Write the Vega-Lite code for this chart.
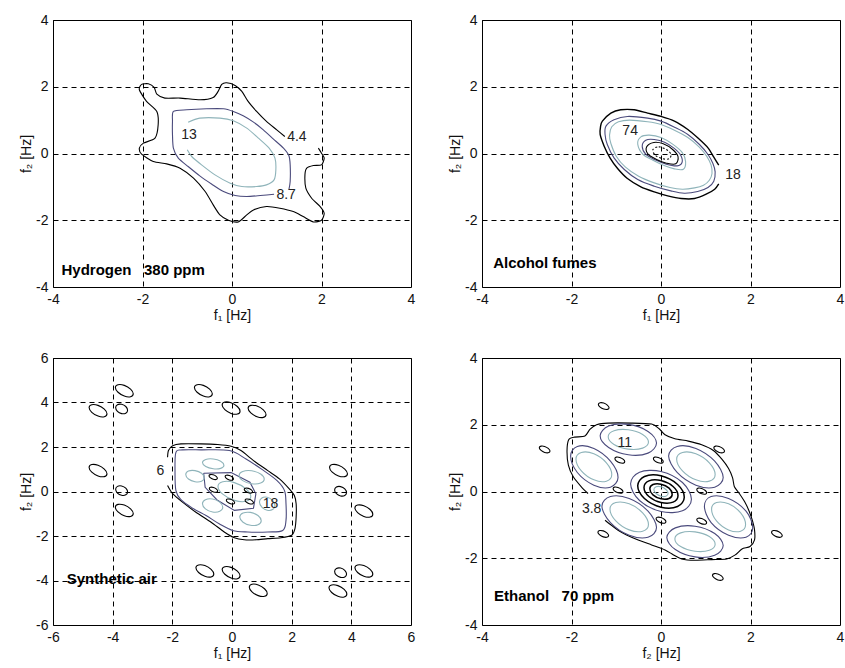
{
"$schema":"https://vega.github.io/schema/vega-lite/v6.json",
"background":"white",
"padding":{"left":19,"top":12,"right":5,"bottom":5},
"bounds":"flush",
"columns":2,
"spacing":{"row":71,"column":71},
"config":{
 "view":{"stroke":"#000","strokeWidth":1},
 "axis":{"labelFont":"Liberation Sans","labelFontSize":14,"labelColor":"#111","titleFont":"Liberation Sans","titleFontSize":14,"titleFontWeight":"normal","titleColor":"#111","ticks":false,"domain":false,"grid":true,"gridColor":"#000","gridDash":[5,4],"gridOpacity":1,"gridWidth":1,"labelPadding":5,"titlePadding":2,"labelFlush":false,"labelOverlap":false},
 "text":{"font":"Liberation Sans","fontSize":14,"color":"#222"}
},
"concat":[
{
 "width":358,"height":267,
 "encoding":{
  "x":{"field":"x","type":"quantitative","scale":{"domain":[-4,4],"nice":false,"zero":false},"axis":{"values":[-4,-2,0,2,4],"labelExpr":"'' + datum.value"},"title":"f₁ [Hz]"},
  "y":{"field":"y","type":"quantitative","scale":{"domain":[-4,4],"nice":false,"zero":false},"axis":{"values":[-4,-2,0,2,4],"labelExpr":"'' + datum.value"},"title":"f₂ [Hz]"}
 },
 "layer":[
  {"mark":{"type":"line","interpolate":"cardinal","tension":0.3,"strokeWidth":1.1},
   "data":{"values":[
{"g":"h1","k":"b","x":1.18,"y":0.51},{"g":"h1","k":"b","x":1.00,"y":0.71},{"g":"h1","k":"b","x":0.77,"y":0.96},{"g":"h1","k":"b","x":0.55,"y":1.26},{"g":"h1","k":"b","x":0.36,"y":1.56},{"g":"h1","k":"b","x":0.22,"y":1.86},{"g":"h1","k":"b","x":0.07,"y":2.04},{"g":"h1","k":"b","x":-0.12,"y":2.12},{"g":"h1","k":"b","x":-0.23,"y":2.07},{"g":"h1","k":"b","x":-0.31,"y":1.86},{"g":"h1","k":"b","x":-0.42,"y":1.68},{"g":"h1","k":"b","x":-0.71,"y":1.61},{"g":"h1","k":"b","x":-1.16,"y":1.66},{"g":"h1","k":"b","x":-1.50,"y":1.66},{"g":"h1","k":"b","x":-1.68,"y":1.78},{"g":"h1","k":"b","x":-1.74,"y":1.98},{"g":"h1","k":"b","x":-1.87,"y":2.09},{"g":"h1","k":"b","x":-2.02,"y":2.07},{"g":"h1","k":"b","x":-2.07,"y":1.91},{"g":"h1","k":"b","x":-1.91,"y":1.56},{"g":"h1","k":"b","x":-1.68,"y":1.26},{"g":"h1","k":"b","x":-1.65,"y":0.86},{"g":"h1","k":"b","x":-1.72,"y":0.46},{"g":"h1","k":"b","x":-1.98,"y":0.31},{"g":"h1","k":"b","x":-2.07,"y":0.16},{"g":"h1","k":"b","x":-2.02,"y":-0.02},{"g":"h1","k":"b","x":-1.76,"y":-0.24},{"g":"h1","k":"b","x":-1.46,"y":-0.31},{"g":"h1","k":"b","x":-1.16,"y":-0.44},{"g":"h1","k":"b","x":-0.86,"y":-0.74},{"g":"h1","k":"b","x":-0.60,"y":-1.14},{"g":"h1","k":"b","x":-0.42,"y":-1.54},{"g":"h1","k":"b","x":-0.27,"y":-1.84},{"g":"h1","k":"b","x":-0.08,"y":-2.00},{"g":"h1","k":"b","x":0.14,"y":-2.05},{"g":"h1","k":"b","x":0.33,"y":-1.84},{"g":"h1","k":"b","x":0.48,"y":-1.69},{"g":"h1","k":"b","x":0.77,"y":-1.59},{"g":"h1","k":"b","x":1.07,"y":-1.64},{"g":"h1","k":"b","x":1.37,"y":-1.74},{"g":"h1","k":"b","x":1.59,"y":-1.89},{"g":"h1","k":"b","x":1.82,"y":-2.05},{"g":"h1","k":"b","x":2.00,"y":-2.00},{"g":"h1","k":"b","x":2.06,"y":-1.79},{"g":"h1","k":"b","x":1.97,"y":-1.59},{"g":"h1","k":"b","x":1.78,"y":-1.34},{"g":"h1","k":"b","x":1.65,"y":-1.04},{"g":"h1","k":"b","x":1.63,"y":-0.64},{"g":"h1","k":"b","x":1.67,"y":-0.44},{"g":"h1","k":"b","x":1.82,"y":-0.36},{"g":"h1","k":"b","x":2.00,"y":-0.34},{"g":"h1","k":"b","x":2.06,"y":-0.14},{"g":"h1","k":"b","x":2.00,"y":0.01},{"g":"h1","k":"b","x":1.93,"y":0.16},
{"g":"h2","k":"d","x":0.94,"y":-1.22},{"g":"h2","k":"d","x":0.63,"y":-1.26},{"g":"h2","k":"d","x":0.33,"y":-1.29},{"g":"h2","k":"d","x":0.07,"y":-1.26},{"g":"h2","k":"d","x":-0.19,"y":-1.14},{"g":"h2","k":"d","x":-0.45,"y":-0.92},{"g":"h2","k":"d","x":-0.72,"y":-0.67},{"g":"h2","k":"d","x":-0.98,"y":-0.39},{"g":"h2","k":"d","x":-1.20,"y":-0.14},{"g":"h2","k":"d","x":-1.31,"y":0.16},{"g":"h2","k":"d","x":-1.33,"y":0.56},{"g":"h2","k":"d","x":-1.33,"y":0.96},{"g":"h2","k":"d","x":-1.31,"y":1.26},{"g":"h2","k":"d","x":-1.01,"y":1.31},{"g":"h2","k":"d","x":-0.57,"y":1.34},{"g":"h2","k":"d","x":-0.19,"y":1.34},{"g":"h2","k":"d","x":0.03,"y":1.26},{"g":"h2","k":"d","x":0.25,"y":1.13},{"g":"h2","k":"d","x":0.48,"y":0.94},{"g":"h2","k":"d","x":0.70,"y":0.71},{"g":"h2","k":"d","x":0.92,"y":0.44},{"g":"h2","k":"d","x":1.15,"y":0.16},{"g":"h2","k":"d","x":1.27,"y":-0.06},{"g":"h2","k":"d","x":1.30,"y":-0.34},{"g":"h2","k":"d","x":1.30,"y":-0.84},{"g":"h2","k":"d","x":1.27,"y":-1.09},
{"g":"h3","k":"l","x":-0.98,"y":0.94},{"g":"h3","k":"l","x":-0.72,"y":1.06},{"g":"h3","k":"l","x":-0.27,"y":1.06},{"g":"h3","k":"l","x":0.03,"y":0.98},{"g":"h3","k":"l","x":0.33,"y":0.76},{"g":"h3","k":"l","x":0.59,"y":0.46},{"g":"h3","k":"l","x":0.83,"y":0.16},{"g":"h3","k":"l","x":0.96,"y":-0.14},{"g":"h3","k":"l","x":0.98,"y":-0.49},{"g":"h3","k":"l","x":0.94,"y":-0.79},{"g":"h3","k":"l","x":0.77,"y":-0.94},{"g":"h3","k":"l","x":0.55,"y":-0.99},{"g":"h3","k":"l","x":0.22,"y":-0.99},{"g":"h3","k":"l","x":-0.04,"y":-0.89},{"g":"h3","k":"l","x":-0.38,"y":-0.64},{"g":"h3","k":"l","x":-0.68,"y":-0.34},{"g":"h3","k":"l","x":-0.90,"y":-0.09},{"g":"h3","k":"l","x":-1.00,"y":0.11}
   ]},
   "encoding":{"detail":{"field":"g"},"color":{"field":"k","type":"nominal","scale":{"domain":["b","d","l"],"range":["#000000","#4a4a7c","#8fb4ba"]},"legend":null},"order":{"value":null}}},
  {"mark":{"type":"text","align":"center","baseline":"middle"},
   "data":{"values":[{"x":-0.96,"y":0.56,"t":"13"},{"x":1.45,"y":0.48,"t":"4.4"},{"x":1.21,"y":-1.24,"t":"8.7"}]},
   "encoding":{"text":{"field":"t"}}},
  {"mark":{"type":"text","align":"left","baseline":"middle","fontWeight":"bold","fontSize":15,"color":"#000"},
   "data":{"values":[{"x":-3.81,"y":-3.5,"t":"Hydrogen\u00a0\u00a0 380 ppm"}]},
   "encoding":{"text":{"field":"t"}}}
 ]
},
{
 "width":358,"height":267,
 "encoding":{
  "x":{"field":"x","type":"quantitative","scale":{"domain":[-4,4],"nice":false,"zero":false},"axis":{"values":[-4,-2,0,2,4],"labelExpr":"'' + datum.value"},"title":"f₁ [Hz]"},
  "y":{"field":"y","type":"quantitative","scale":{"domain":[-4,4],"nice":false,"zero":false},"axis":{"values":[-4,-2,0,2,4],"labelExpr":"'' + datum.value"},"title":"f₂ [Hz]"}
 },
 "layer":[
  {"mark":{"type":"line","interpolate":"cardinal","tension":0.3,"strokeWidth":1.4},
   "data":{"values":[
{"g":"a1","k":"b","x":1.29,"y":-0.91},{"g":"a1","k":"b","x":1.20,"y":-1.07},{"g":"a1","k":"b","x":1.01,"y":-1.22},{"g":"a1","k":"b","x":0.75,"y":-1.35},{"g":"a1","k":"b","x":0.45,"y":-1.35},{"g":"a1","k":"b","x":0.15,"y":-1.27},{"g":"a1","k":"b","x":-0.15,"y":-1.15},{"g":"a1","k":"b","x":-0.45,"y":-1.00},{"g":"a1","k":"b","x":-0.75,"y":-0.75},{"g":"a1","k":"b","x":-0.97,"y":-0.45},{"g":"a1","k":"b","x":-1.14,"y":-0.13},{"g":"a1","k":"b","x":-1.27,"y":0.22},{"g":"a1","k":"b","x":-1.36,"y":0.57},{"g":"a1","k":"b","x":-1.35,"y":0.82},{"g":"a1","k":"b","x":-1.31,"y":0.97},{"g":"a1","k":"b","x":-1.12,"y":1.21},{"g":"a1","k":"b","x":-0.90,"y":1.31},{"g":"a1","k":"b","x":-0.60,"y":1.31},{"g":"a1","k":"b","x":-0.30,"y":1.21},{"g":"a1","k":"b","x":0.00,"y":1.11},{"g":"a1","k":"b","x":0.30,"y":0.97},{"g":"a1","k":"b","x":0.60,"y":0.72},{"g":"a1","k":"b","x":0.82,"y":0.47},{"g":"a1","k":"b","x":1.05,"y":0.17},{"g":"a1","k":"b","x":1.18,"y":-0.11},{"g":"a1","k":"b","x":1.29,"y":-0.35}
   ]},
   "encoding":{"detail":{"field":"g"},"color":{"field":"k","type":"nominal","scale":{"domain":["b","d","l"],"range":["#000000","#4a4a7c","#8fb4ba"]},"legend":null},"order":{"value":null}}},
  {"mark":{"type":"line","interpolate":"cardinal-closed","strokeWidth":1.1},
   "data":{"values":[
{"g":"a2","k":"d","x":-1.23,"y":0.82},{"g":"a2","k":"d","x":-1.05,"y":1.01},{"g":"a2","k":"d","x":-0.75,"y":1.11},{"g":"a2","k":"d","x":-0.30,"y":1.06},{"g":"a2","k":"d","x":0.00,"y":0.97},{"g":"a2","k":"d","x":0.30,"y":0.79},{"g":"a2","k":"d","x":0.60,"y":0.57},{"g":"a2","k":"d","x":0.86,"y":0.27},{"g":"a2","k":"d","x":1.05,"y":-0.03},{"g":"a2","k":"d","x":1.16,"y":-0.30},{"g":"a2","k":"d","x":1.21,"y":-0.55},{"g":"a2","k":"d","x":1.18,"y":-0.83},{"g":"a2","k":"d","x":1.05,"y":-1.02},{"g":"a2","k":"d","x":0.82,"y":-1.14},{"g":"a2","k":"d","x":0.52,"y":-1.19},{"g":"a2","k":"d","x":0.22,"y":-1.12},{"g":"a2","k":"d","x":-0.15,"y":-0.98},{"g":"a2","k":"d","x":-0.52,"y":-0.78},{"g":"a2","k":"d","x":-0.82,"y":-0.48},{"g":"a2","k":"d","x":-1.05,"y":-0.13},{"g":"a2","k":"d","x":-1.20,"y":0.27},{"g":"a2","k":"d","x":-1.25,"y":0.57},
{"g":"a3","k":"l","x":-1.10,"y":0.80},{"g":"a3","k":"l","x":-0.95,"y":0.95},{"g":"a3","k":"l","x":-0.70,"y":1.00},{"g":"a3","k":"l","x":-0.30,"y":0.95},{"g":"a3","k":"l","x":0.00,"y":0.87},{"g":"a3","k":"l","x":0.30,"y":0.70},{"g":"a3","k":"l","x":0.60,"y":0.48},{"g":"a3","k":"l","x":0.85,"y":0.20},{"g":"a3","k":"l","x":1.02,"y":-0.08},{"g":"a3","k":"l","x":1.12,"y":-0.35},{"g":"a3","k":"l","x":1.14,"y":-0.60},{"g":"a3","k":"l","x":1.08,"y":-0.80},{"g":"a3","k":"l","x":0.95,"y":-0.95},{"g":"a3","k":"l","x":0.75,"y":-1.03},{"g":"a3","k":"l","x":0.48,"y":-1.07},{"g":"a3","k":"l","x":0.20,"y":-1.02},{"g":"a3","k":"l","x":-0.15,"y":-0.88},{"g":"a3","k":"l","x":-0.50,"y":-0.68},{"g":"a3","k":"l","x":-0.80,"y":-0.40},{"g":"a3","k":"l","x":-1.00,"y":-0.08},{"g":"a3","k":"l","x":-1.12,"y":0.30},{"g":"a3","k":"l","x":-1.15,"y":0.55},
{"g":"a4","k":"l","x":-0.52,"y":0.28},{"g":"a4","k":"l","x":-0.45,"y":0.50},{"g":"a4","k":"l","x":-0.26,"y":0.55},{"g":"a4","k":"l","x":0.0,"y":0.48},{"g":"a4","k":"l","x":0.26,"y":0.28},{"g":"a4","k":"l","x":0.48,"y":0.02},{"g":"a4","k":"l","x":0.55,"y":-0.25},{"g":"a4","k":"l","x":0.50,"y":-0.47},{"g":"a4","k":"l","x":0.30,"y":-0.46},{"g":"a4","k":"l","x":0.07,"y":-0.36},{"g":"a4","k":"l","x":-0.18,"y":-0.20},{"g":"a4","k":"l","x":-0.40,"y":-0.03},
{"g":"a5","k":"d","x":-0.42,"y":0.22},{"g":"a5","k":"d","x":-0.34,"y":0.40},{"g":"a5","k":"d","x":-0.15,"y":0.42},{"g":"a5","k":"d","x":0.08,"y":0.34},{"g":"a5","k":"d","x":0.29,"y":0.16},{"g":"a5","k":"d","x":0.44,"y":-0.05},{"g":"a5","k":"d","x":0.47,"y":-0.27},{"g":"a5","k":"d","x":0.36,"y":-0.37},{"g":"a5","k":"d","x":0.12,"y":-0.32},{"g":"a5","k":"d","x":-0.13,"y":-0.19},{"g":"a5","k":"d","x":-0.34,"y":-0.02},
{"g":"a6","k":"b","x":-0.32,"y":0.20},{"g":"a6","k":"b","x":-0.16,"y":0.33},{"g":"a6","k":"b","x":0.05,"y":0.29},{"g":"a6","k":"b","x":0.26,"y":0.12},{"g":"a6","k":"b","x":0.38,"y":-0.09},{"g":"a6","k":"b","x":0.33,"y":-0.31},{"g":"a6","k":"b","x":0.12,"y":-0.29},{"g":"a6","k":"b","x":-0.10,"y":-0.18},{"g":"a6","k":"b","x":-0.29,"y":-0.02}
   ]},
   "encoding":{"detail":{"field":"g"},"color":{"field":"k","type":"nominal","scale":{"domain":["b","d","l"],"range":["#000000","#4a4a7c","#8fb4ba"]},"legend":null},"order":{"value":null}}},
  {"mark":{"type":"line","interpolate":"cardinal-closed","strokeWidth":1.1,"strokeDash":[2,2]},
   "data":{"values":[
{"g":"a7","k":"b","x":-0.18,"y":0.12},{"g":"a7","k":"b","x":-0.05,"y":0.20},{"g":"a7","k":"b","x":0.12,"y":0.12},{"g":"a7","k":"b","x":0.22,"y":-0.02},{"g":"a7","k":"b","x":0.18,"y":-0.16},{"g":"a7","k":"b","x":0.02,"y":-0.15},{"g":"a7","k":"b","x":-0.13,"y":-0.05}
   ]},
   "encoding":{"detail":{"field":"g"},"color":{"field":"k","type":"nominal","scale":{"domain":["b","d","l"],"range":["#000000","#4a4a7c","#8fb4ba"]},"legend":null},"order":{"value":null}}},
  {"mark":{"type":"text","align":"center","baseline":"middle"},
   "data":{"values":[{"x":-0.69,"y":0.67,"t":"74"},{"x":1.61,"y":-0.63,"t":"18"}]},
   "encoding":{"text":{"field":"t"}}},
  {"mark":{"type":"text","align":"left","baseline":"middle","fontWeight":"bold","fontSize":15,"color":"#000"},
   "data":{"values":[{"x":-3.75,"y":-3.28,"t":"Alcohol fumes"}]},
   "encoding":{"text":{"field":"t"}}}
 ]
},
{
 "width":358,"height":267,
 "encoding":{
  "x":{"field":"x","type":"quantitative","scale":{"domain":[-6,6],"nice":false,"zero":false},"axis":{"values":[-6,-4,-2,0,2,4,6],"labelExpr":"'' + datum.value"},"title":"f₁ [Hz]"},
  "y":{"field":"y","type":"quantitative","scale":{"domain":[-6,6],"nice":false,"zero":false},"axis":{"values":[-6,-4,-2,0,2,4,6],"labelExpr":"'' + datum.value"},"title":"f₂ [Hz]"}
 },
 "layer":[
  {"mark":{"type":"line","interpolate":"cardinal","tension":0.3,"strokeWidth":1.1},
   "data":{"values":[
{"g":"s0","k":"b","x":-2.16,"y":0.27},{"g":"s0","k":"b","x":-1.99,"y":-0.10},{"g":"s0","k":"b","x":-1.66,"y":-0.48},{"g":"s0","k":"b","x":-1.21,"y":-0.93},{"g":"s0","k":"b","x":-0.70,"y":-1.38},{"g":"s0","k":"b","x":-0.26,"y":-1.82},{"g":"s0","k":"b","x":0.08,"y":-2.08},{"g":"s0","k":"b","x":0.41,"y":-2.17},{"g":"s0","k":"b","x":0.81,"y":-2.17},{"g":"s0","k":"b","x":1.20,"y":-2.12},{"g":"s0","k":"b","x":1.64,"y":-2.08},{"g":"s0","k":"b","x":2.00,"y":-1.97},{"g":"s0","k":"b","x":2.11,"y":-1.67},{"g":"s0","k":"b","x":2.15,"y":-1.15},{"g":"s0","k":"b","x":2.15,"y":-0.55},{"g":"s0","k":"b","x":2.09,"y":-0.18},{"g":"s0","k":"b","x":1.92,"y":0.12},{"g":"s0","k":"b","x":1.59,"y":0.57},{"g":"s0","k":"b","x":1.20,"y":0.94},{"g":"s0","k":"b","x":0.75,"y":1.36},{"g":"s0","k":"b","x":0.30,"y":1.84},{"g":"s0","k":"b","x":-0.03,"y":2.03},{"g":"s0","k":"b","x":-0.48,"y":2.11},{"g":"s0","k":"b","x":-1.04,"y":2.14},{"g":"s0","k":"b","x":-1.71,"y":2.14},{"g":"s0","k":"b","x":-1.99,"y":2.06},{"g":"s0","k":"b","x":-2.13,"y":1.84},{"g":"s0","k":"b","x":-2.16,"y":1.54}
   ]},
   "encoding":{"detail":{"field":"g"},"color":{"field":"k","type":"nominal","scale":{"domain":["b","d","l"],"range":["#000000","#4a4a7c","#8fb4ba"]},"legend":null},"order":{"value":null}}},
  {"mark":{"type":"line","interpolate":"linear","strokeWidth":1.1},
   "data":{"values":[
{"g":"s2","k":"d","x":-0.95,"y":0.82},{"g":"s2","k":"d","x":-0.03,"y":0.85},{"g":"s2","k":"d","x":0.60,"y":0.42},{"g":"s2","k":"d","x":0.80,"y":-0.10},{"g":"s2","k":"d","x":0.72,"y":-0.75},{"g":"s2","k":"d","x":0.08,"y":-0.85},{"g":"s2","k":"d","x":-0.50,"y":-0.38},{"g":"s2","k":"d","x":-0.90,"y":0.19},{"g":"s2","k":"d","x":-0.95,"y":0.82}
   ]},
   "encoding":{"detail":{"field":"g"},"color":{"field":"k","type":"nominal","scale":{"domain":["b","d","l"],"range":["#000000","#4a4a7c","#8fb4ba"]},"legend":null},"order":{"value":null}}},
  {"mark":{"type":"line","interpolate":"cardinal-closed","strokeWidth":1.1},
   "data":{"values":[
{"g":"s1","k":"d","x":-1.88,"y":1.76},{"g":"s1","k":"d","x":-1.66,"y":1.87},{"g":"s1","k":"d","x":-1.04,"y":1.87},{"g":"s1","k":"d","x":-0.09,"y":1.84},{"g":"s1","k":"d","x":0.47,"y":1.46},{"g":"s1","k":"d","x":1.03,"y":0.97},{"g":"s1","k":"d","x":1.51,"y":0.49},{"g":"s1","k":"d","x":1.76,"y":0.04},{"g":"s1","k":"d","x":1.81,"y":-0.55},{"g":"s1","k":"d","x":1.81,"y":-1.30},{"g":"s1","k":"d","x":1.70,"y":-1.75},{"g":"s1","k":"d","x":1.20,"y":-1.82},{"g":"s1","k":"d","x":0.53,"y":-1.82},{"g":"s1","k":"d","x":0.02,"y":-1.75},{"g":"s1","k":"d","x":-0.43,"y":-1.45},{"g":"s1","k":"d","x":-0.87,"y":-1.08},{"g":"s1","k":"d","x":-1.32,"y":-0.75},{"g":"s1","k":"d","x":-1.71,"y":-0.37},{"g":"s1","k":"d","x":-1.88,"y":0.04},{"g":"s1","k":"d","x":-1.91,"y":0.94},
{"g":"la","k":"l","x":-0.27,"y":1.18},{"g":"la","k":"l","x":-0.38,"y":1.04},{"g":"la","k":"l","x":-0.63,"y":1.02},{"g":"la","k":"l","x":-0.88,"y":1.12},{"g":"la","k":"l","x":-0.99,"y":1.30},{"g":"la","k":"l","x":-0.88,"y":1.44},{"g":"la","k":"l","x":-0.63,"y":1.46},{"g":"la","k":"l","x":-0.38,"y":1.36},
{"g":"lb","k":"l","x":-0.93,"y":0.62},{"g":"lb","k":"l","x":-1.02,"y":0.46},{"g":"lb","k":"l","x":-1.24,"y":0.44},{"g":"lb","k":"l","x":-1.46,"y":0.56},{"g":"lb","k":"l","x":-1.55,"y":0.76},{"g":"lb","k":"l","x":-1.46,"y":0.92},{"g":"lb","k":"l","x":-1.24,"y":0.94},{"g":"lb","k":"l","x":-1.02,"y":0.82},
{"g":"lc","k":"l","x":1.08,"y":0.56},{"g":"lc","k":"l","x":0.96,"y":0.38},{"g":"lc","k":"l","x":0.66,"y":0.35},{"g":"lc","k":"l","x":0.36,"y":0.49},{"g":"lc","k":"l","x":0.24,"y":0.72},{"g":"lc","k":"l","x":0.36,"y":0.90},{"g":"lc","k":"l","x":0.66,"y":0.93},{"g":"lc","k":"l","x":0.96,"y":0.79},
{"g":"ld","k":"l","x":-0.31,"y":-0.71},{"g":"ld","k":"l","x":-0.41,"y":-0.89},{"g":"ld","k":"l","x":-0.65,"y":-0.92},{"g":"ld","k":"l","x":-0.89,"y":-0.78},{"g":"ld","k":"l","x":-0.99,"y":-0.55},{"g":"ld","k":"l","x":-0.89,"y":-0.37},{"g":"ld","k":"l","x":-0.65,"y":-0.34},{"g":"ld","k":"l","x":-0.41,"y":-0.48},
{"g":"le","k":"l","x":1.44,"y":-0.63},{"g":"le","k":"l","x":1.36,"y":-0.81},{"g":"le","k":"l","x":1.18,"y":-0.84},{"g":"le","k":"l","x":1.00,"y":-0.70},{"g":"le","k":"l","x":0.92,"y":-0.47},{"g":"le","k":"l","x":1.00,"y":-0.29},{"g":"le","k":"l","x":1.18,"y":-0.26},{"g":"le","k":"l","x":1.36,"y":-0.40},
{"g":"lf","k":"l","x":0.98,"y":-1.31},{"g":"lf","k":"l","x":0.87,"y":-1.49},{"g":"lf","k":"l","x":0.62,"y":-1.52},{"g":"lf","k":"l","x":0.37,"y":-1.38},{"g":"lf","k":"l","x":0.26,"y":-1.15},{"g":"lf","k":"l","x":0.37,"y":-0.97},{"g":"lf","k":"l","x":0.62,"y":-0.94},{"g":"lf","k":"l","x":0.87,"y":-1.08},
{"g":"lg","k":"l","x":0.63,"y":-0.23},{"g":"lg","k":"l","x":0.47,"y":-0.44},{"g":"lg","k":"l","x":0.08,"y":-0.40},{"g":"lg","k":"l","x":-0.31,"y":-0.12},{"g":"lg","k":"l","x":-0.47,"y":0.23},{"g":"lg","k":"l","x":-0.31,"y":0.44},{"g":"lg","k":"l","x":0.08,"y":0.40},{"g":"lg","k":"l","x":0.47,"y":0.12},
{"g":"B1","k":"b","x":-0.49,"y":0.59},{"g":"B1","k":"b","x":-0.53,"y":0.54},{"g":"B1","k":"b","x":-0.63,"y":0.55},{"g":"B1","k":"b","x":-0.73,"y":0.62},{"g":"B1","k":"b","x":-0.77,"y":0.71},{"g":"B1","k":"b","x":-0.73,"y":0.76},{"g":"B1","k":"b","x":-0.63,"y":0.75},{"g":"B1","k":"b","x":-0.53,"y":0.68},
{"g":"B2","k":"b","x":0.05,"y":0.56},{"g":"B2","k":"b","x":0.01,"y":0.51},{"g":"B2","k":"b","x":-0.09,"y":0.52},{"g":"B2","k":"b","x":-0.19,"y":0.59},{"g":"B2","k":"b","x":-0.23,"y":0.68},{"g":"B2","k":"b","x":-0.19,"y":0.73},{"g":"B2","k":"b","x":-0.09,"y":0.72},{"g":"B2","k":"b","x":0.01,"y":0.65},
{"g":"B3","k":"b","x":-0.48,"y":0.02},{"g":"B3","k":"b","x":-0.52,"y":-0.03},{"g":"B3","k":"b","x":-0.62,"y":-0.02},{"g":"B3","k":"b","x":-0.72,"y":0.05},{"g":"B3","k":"b","x":-0.76,"y":0.14},{"g":"B3","k":"b","x":-0.72,"y":0.19},{"g":"B3","k":"b","x":-0.62,"y":0.18},{"g":"B3","k":"b","x":-0.52,"y":0.11},
{"g":"B4","k":"b","x":0.69,"y":-0.02},{"g":"B4","k":"b","x":0.65,"y":-0.07},{"g":"B4","k":"b","x":0.55,"y":-0.06},{"g":"B4","k":"b","x":0.45,"y":0.01},{"g":"B4","k":"b","x":0.41,"y":0.10},{"g":"B4","k":"b","x":0.45,"y":0.15},{"g":"B4","k":"b","x":0.55,"y":0.14},{"g":"B4","k":"b","x":0.65,"y":0.07},
{"g":"B5","k":"b","x":0.09,"y":-0.51},{"g":"B5","k":"b","x":0.05,"y":-0.56},{"g":"B5","k":"b","x":-0.05,"y":-0.55},{"g":"B5","k":"b","x":-0.15,"y":-0.48},{"g":"B5","k":"b","x":-0.19,"y":-0.39},{"g":"B5","k":"b","x":-0.15,"y":-0.34},{"g":"B5","k":"b","x":-0.05,"y":-0.35},{"g":"B5","k":"b","x":0.05,"y":-0.42},
{"g":"B6","k":"b","x":0.72,"y":-0.51},{"g":"B6","k":"b","x":0.68,"y":-0.56},{"g":"B6","k":"b","x":0.58,"y":-0.55},{"g":"B6","k":"b","x":0.48,"y":-0.48},{"g":"B6","k":"b","x":0.44,"y":-0.39},{"g":"B6","k":"b","x":0.48,"y":-0.34},{"g":"B6","k":"b","x":0.58,"y":-0.35},{"g":"B6","k":"b","x":0.68,"y":-0.42},
{"g":"S1","k":"b","x":-3.31,"y":4.39},{"g":"S1","k":"b","x":-3.40,"y":4.26},{"g":"S1","k":"b","x":-3.61,"y":4.29},{"g":"S1","k":"b","x":-3.82,"y":4.46},{"g":"S1","k":"b","x":-3.91,"y":4.67},{"g":"S1","k":"b","x":-3.82,"y":4.80},{"g":"S1","k":"b","x":-3.61,"y":4.77},{"g":"S1","k":"b","x":-3.40,"y":4.60},
{"g":"S2","k":"b","x":-4.19,"y":3.49},{"g":"S2","k":"b","x":-4.28,"y":3.36},{"g":"S2","k":"b","x":-4.49,"y":3.39},{"g":"S2","k":"b","x":-4.70,"y":3.56},{"g":"S2","k":"b","x":-4.79,"y":3.77},{"g":"S2","k":"b","x":-4.70,"y":3.90},{"g":"S2","k":"b","x":-4.49,"y":3.87},{"g":"S2","k":"b","x":-4.28,"y":3.70},
{"g":"S3","k":"b","x":-3.50,"y":3.65},{"g":"S3","k":"b","x":-3.56,"y":3.52},{"g":"S3","k":"b","x":-3.70,"y":3.50},{"g":"S3","k":"b","x":-3.84,"y":3.60},{"g":"S3","k":"b","x":-3.90,"y":3.77},{"g":"S3","k":"b","x":-3.84,"y":3.90},{"g":"S3","k":"b","x":-3.70,"y":3.92},{"g":"S3","k":"b","x":-3.56,"y":3.82},
{"g":"S4","k":"b","x":-0.66,"y":4.39},{"g":"S4","k":"b","x":-0.75,"y":4.26},{"g":"S4","k":"b","x":-0.96,"y":4.29},{"g":"S4","k":"b","x":-1.17,"y":4.46},{"g":"S4","k":"b","x":-1.26,"y":4.67},{"g":"S4","k":"b","x":-1.17,"y":4.80},{"g":"S4","k":"b","x":-0.96,"y":4.77},{"g":"S4","k":"b","x":-0.75,"y":4.60},
{"g":"S5","k":"b","x":0.27,"y":3.61},{"g":"S5","k":"b","x":0.18,"y":3.48},{"g":"S5","k":"b","x":-0.03,"y":3.51},{"g":"S5","k":"b","x":-0.24,"y":3.68},{"g":"S5","k":"b","x":-0.33,"y":3.89},{"g":"S5","k":"b","x":-0.24,"y":4.02},{"g":"S5","k":"b","x":-0.03,"y":3.99},{"g":"S5","k":"b","x":0.18,"y":3.82},
{"g":"S6","k":"b","x":1.14,"y":3.46},{"g":"S6","k":"b","x":1.05,"y":3.33},{"g":"S6","k":"b","x":0.84,"y":3.36},{"g":"S6","k":"b","x":0.63,"y":3.53},{"g":"S6","k":"b","x":0.54,"y":3.74},{"g":"S6","k":"b","x":0.63,"y":3.87},{"g":"S6","k":"b","x":0.84,"y":3.84},{"g":"S6","k":"b","x":1.05,"y":3.67},
{"g":"S7","k":"b","x":-4.19,"y":0.80},{"g":"S7","k":"b","x":-4.28,"y":0.67},{"g":"S7","k":"b","x":-4.49,"y":0.70},{"g":"S7","k":"b","x":-4.70,"y":0.87},{"g":"S7","k":"b","x":-4.79,"y":1.08},{"g":"S7","k":"b","x":-4.70,"y":1.21},{"g":"S7","k":"b","x":-4.49,"y":1.18},{"g":"S7","k":"b","x":-4.28,"y":1.01},
{"g":"S8","k":"b","x":-3.50,"y":-0.02},{"g":"S8","k":"b","x":-3.56,"y":-0.15},{"g":"S8","k":"b","x":-3.70,"y":-0.17},{"g":"S8","k":"b","x":-3.84,"y":-0.07},{"g":"S8","k":"b","x":-3.90,"y":0.10},{"g":"S8","k":"b","x":-3.84,"y":0.23},{"g":"S8","k":"b","x":-3.70,"y":0.25},{"g":"S8","k":"b","x":-3.56,"y":0.15},
{"g":"S9","k":"b","x":-3.31,"y":-0.99},{"g":"S9","k":"b","x":-3.40,"y":-1.12},{"g":"S9","k":"b","x":-3.61,"y":-1.09},{"g":"S9","k":"b","x":-3.82,"y":-0.92},{"g":"S9","k":"b","x":-3.91,"y":-0.71},{"g":"S9","k":"b","x":-3.82,"y":-0.58},{"g":"S9","k":"b","x":-3.61,"y":-0.61},{"g":"S9","k":"b","x":-3.40,"y":-0.78},
{"g":"S10","k":"b","x":3.87,"y":0.80},{"g":"S10","k":"b","x":3.78,"y":0.67},{"g":"S10","k":"b","x":3.57,"y":0.70},{"g":"S10","k":"b","x":3.36,"y":0.87},{"g":"S10","k":"b","x":3.27,"y":1.08},{"g":"S10","k":"b","x":3.36,"y":1.21},{"g":"S10","k":"b","x":3.57,"y":1.18},{"g":"S10","k":"b","x":3.78,"y":1.01},
{"g":"S11","k":"b","x":3.84,"y":-0.05},{"g":"S11","k":"b","x":3.78,"y":-0.18},{"g":"S11","k":"b","x":3.64,"y":-0.20},{"g":"S11","k":"b","x":3.50,"y":-0.10},{"g":"S11","k":"b","x":3.44,"y":0.07},{"g":"S11","k":"b","x":3.50,"y":0.20},{"g":"S11","k":"b","x":3.64,"y":0.22},{"g":"S11","k":"b","x":3.78,"y":0.12},
{"g":"S12","k":"b","x":4.72,"y":-1.02},{"g":"S12","k":"b","x":4.63,"y":-1.15},{"g":"S12","k":"b","x":4.42,"y":-1.12},{"g":"S12","k":"b","x":4.21,"y":-0.95},{"g":"S12","k":"b","x":4.12,"y":-0.74},{"g":"S12","k":"b","x":4.21,"y":-0.61},{"g":"S12","k":"b","x":4.42,"y":-0.64},{"g":"S12","k":"b","x":4.63,"y":-0.81},
{"g":"S13","k":"b","x":-0.61,"y":-3.71},{"g":"S13","k":"b","x":-0.70,"y":-3.84},{"g":"S13","k":"b","x":-0.91,"y":-3.81},{"g":"S13","k":"b","x":-1.12,"y":-3.64},{"g":"S13","k":"b","x":-1.21,"y":-3.43},{"g":"S13","k":"b","x":-1.12,"y":-3.30},{"g":"S13","k":"b","x":-0.91,"y":-3.33},{"g":"S13","k":"b","x":-0.70,"y":-3.50},
{"g":"S14","k":"b","x":0.27,"y":-3.79},{"g":"S14","k":"b","x":0.18,"y":-3.92},{"g":"S14","k":"b","x":-0.03,"y":-3.89},{"g":"S14","k":"b","x":-0.24,"y":-3.72},{"g":"S14","k":"b","x":-0.33,"y":-3.51},{"g":"S14","k":"b","x":-0.24,"y":-3.38},{"g":"S14","k":"b","x":-0.03,"y":-3.41},{"g":"S14","k":"b","x":0.18,"y":-3.58},
{"g":"S15","k":"b","x":1.18,"y":-4.58},{"g":"S15","k":"b","x":1.09,"y":-4.71},{"g":"S15","k":"b","x":0.88,"y":-4.68},{"g":"S15","k":"b","x":0.67,"y":-4.51},{"g":"S15","k":"b","x":0.58,"y":-4.30},{"g":"S15","k":"b","x":0.67,"y":-4.17},{"g":"S15","k":"b","x":0.88,"y":-4.20},{"g":"S15","k":"b","x":1.09,"y":-4.37},
{"g":"S16","k":"b","x":3.84,"y":-3.71},{"g":"S16","k":"b","x":3.78,"y":-3.84},{"g":"S16","k":"b","x":3.64,"y":-3.86},{"g":"S16","k":"b","x":3.50,"y":-3.76},{"g":"S16","k":"b","x":3.44,"y":-3.59},{"g":"S16","k":"b","x":3.50,"y":-3.46},{"g":"S16","k":"b","x":3.64,"y":-3.44},{"g":"S16","k":"b","x":3.78,"y":-3.54},
{"g":"S17","k":"b","x":4.72,"y":-3.71},{"g":"S17","k":"b","x":4.63,"y":-3.84},{"g":"S17","k":"b","x":4.42,"y":-3.81},{"g":"S17","k":"b","x":4.21,"y":-3.64},{"g":"S17","k":"b","x":4.12,"y":-3.43},{"g":"S17","k":"b","x":4.21,"y":-3.30},{"g":"S17","k":"b","x":4.42,"y":-3.33},{"g":"S17","k":"b","x":4.63,"y":-3.50},
{"g":"S18","k":"b","x":3.85,"y":-4.61},{"g":"S18","k":"b","x":3.76,"y":-4.74},{"g":"S18","k":"b","x":3.55,"y":-4.71},{"g":"S18","k":"b","x":3.34,"y":-4.54},{"g":"S18","k":"b","x":3.25,"y":-4.33},{"g":"S18","k":"b","x":3.34,"y":-4.20},{"g":"S18","k":"b","x":3.55,"y":-4.23},{"g":"S18","k":"b","x":3.76,"y":-4.40}
   ]},
   "encoding":{"detail":{"field":"g"},"color":{"field":"k","type":"nominal","scale":{"domain":["b","d","l"],"range":["#000000","#4a4a7c","#8fb4ba"]},"legend":null},"order":{"value":null}}},
  {"mark":{"type":"text","align":"center","baseline":"middle"},
   "data":{"values":[{"x":-2.40,"y":0.94,"t":"6"},{"x":1.29,"y":-0.55,"t":"18"}]},
   "encoding":{"text":{"field":"t"}}},
  {"mark":{"type":"text","align":"left","baseline":"middle","fontWeight":"bold","fontSize":15,"color":"#000"},
   "data":{"values":[{"x":-5.54,"y":-3.92,"t":"Synthetic air"}]},
   "encoding":{"text":{"field":"t"}}}
 ]
},
{
 "width":358,"height":267,
 "encoding":{
  "x":{"field":"x","type":"quantitative","scale":{"domain":[-4,4],"nice":false,"zero":false},"axis":{"values":[-4,-2,0,2,4],"labelExpr":"'' + datum.value"},"title":"f₂ [Hz]"},
  "y":{"field":"y","type":"quantitative","scale":{"domain":[-4,4],"nice":false,"zero":false},"axis":{"values":[-4,-2,0,2,4],"labelExpr":"'' + datum.value"},"title":"f₂ [Hz]"}
 },
 "layer":[
  {"mark":{"type":"line","interpolate":"cardinal","tension":0.3,"strokeWidth":1.1},
   "data":{"values":[
{"g":"e0","k":"b","x":-1.63,"y":-0.06},{"g":"e0","k":"b","x":-1.78,"y":0.14},{"g":"e0","k":"b","x":-1.96,"y":0.44},{"g":"e0","k":"b","x":-2.07,"y":0.79},{"g":"e0","k":"b","x":-2.10,"y":1.23},{"g":"e0","k":"b","x":-2.06,"y":1.56},{"g":"e0","k":"b","x":-1.93,"y":1.63},{"g":"e0","k":"b","x":-1.70,"y":1.66},{"g":"e0","k":"b","x":-1.59,"y":1.86},{"g":"e0","k":"b","x":-1.44,"y":2.00},{"g":"e0","k":"b","x":-1.18,"y":2.05},{"g":"e0","k":"b","x":-0.66,"y":2.05},{"g":"e0","k":"b","x":-0.21,"y":2.02},{"g":"e0","k":"b","x":-0.04,"y":1.88},{"g":"e0","k":"b","x":0.09,"y":1.70},{"g":"e0","k":"b","x":0.31,"y":1.58},{"g":"e0","k":"b","x":0.61,"y":1.51},{"g":"e0","k":"b","x":0.91,"y":1.40},{"g":"e0","k":"b","x":1.17,"y":1.23},{"g":"e0","k":"b","x":1.36,"y":0.97},{"g":"e0","k":"b","x":1.51,"y":0.69},{"g":"e0","k":"b","x":1.60,"y":0.41},{"g":"e0","k":"b","x":1.64,"y":0.14},{"g":"e0","k":"b","x":1.75,"y":-0.06},{"g":"e0","k":"b","x":1.87,"y":-0.31},{"g":"e0","k":"b","x":1.97,"y":-0.59},{"g":"e0","k":"b","x":2.04,"y":-0.86},{"g":"e0","k":"b","x":2.09,"y":-1.15},{"g":"e0","k":"b","x":2.09,"y":-1.45},{"g":"e0","k":"b","x":1.99,"y":-1.65},{"g":"e0","k":"b","x":1.81,"y":-1.72},{"g":"e0","k":"b","x":1.66,"y":-1.90},{"g":"e0","k":"b","x":1.47,"y":-2.02},{"g":"e0","k":"b","x":1.13,"y":-2.04},{"g":"e0","k":"b","x":0.76,"y":-2.06},{"g":"e0","k":"b","x":0.46,"y":-2.02},{"g":"e0","k":"b","x":0.28,"y":-1.90},{"g":"e0","k":"b","x":0.09,"y":-1.75},{"g":"e0","k":"b","x":-0.21,"y":-1.60},{"g":"e0","k":"b","x":-0.51,"y":-1.45},{"g":"e0","k":"b","x":-0.77,"y":-1.30},{"g":"e0","k":"b","x":-0.96,"y":-1.16},{"g":"e0","k":"b","x":-1.10,"y":-1.02},{"g":"e0","k":"b","x":-1.25,"y":-0.86}
   ]},
   "encoding":{"detail":{"field":"g"},"color":{"field":"k","type":"nominal","scale":{"domain":["b","d","l"],"range":["#000000","#4a4a7c","#8fb4ba"]},"legend":null},"order":{"value":null}}},
  {"mark":{"type":"line","interpolate":"cardinal-closed","strokeWidth":1.1},
   "data":{"values":[
{"g":"L1","k":"l","x":-0.28,"y":1.48},{"g":"L1","k":"l","x":-0.41,"y":1.30},{"g":"L1","k":"l","x":-0.73,"y":1.27},{"g":"L1","k":"l","x":-1.05,"y":1.41},{"g":"L1","k":"l","x":-1.18,"y":1.64},{"g":"L1","k":"l","x":-1.05,"y":1.82},{"g":"L1","k":"l","x":-0.73,"y":1.85},{"g":"L1","k":"l","x":-0.41,"y":1.71},
{"g":"L2","k":"l","x":-1.10,"y":0.51},{"g":"L2","k":"l","x":-1.22,"y":0.31},{"g":"L2","k":"l","x":-1.50,"y":0.35},{"g":"L2","k":"l","x":-1.78,"y":0.62},{"g":"L2","k":"l","x":-1.90,"y":0.97},{"g":"L2","k":"l","x":-1.78,"y":1.17},{"g":"L2","k":"l","x":-1.50,"y":1.13},{"g":"L2","k":"l","x":-1.22,"y":0.86},
{"g":"L3","k":"l","x":1.21,"y":0.51},{"g":"L3","k":"l","x":1.08,"y":0.31},{"g":"L3","k":"l","x":0.78,"y":0.35},{"g":"L3","k":"l","x":0.48,"y":0.62},{"g":"L3","k":"l","x":0.35,"y":0.97},{"g":"L3","k":"l","x":0.48,"y":1.17},{"g":"L3","k":"l","x":0.78,"y":1.13},{"g":"L3","k":"l","x":1.08,"y":0.86},
{"g":"L4","k":"l","x":-0.28,"y":-0.99},{"g":"L4","k":"l","x":-0.41,"y":-1.19},{"g":"L4","k":"l","x":-0.71,"y":-1.15},{"g":"L4","k":"l","x":-1.01,"y":-0.88},{"g":"L4","k":"l","x":-1.14,"y":-0.53},{"g":"L4","k":"l","x":-1.01,"y":-0.33},{"g":"L4","k":"l","x":-0.71,"y":-0.37},{"g":"L4","k":"l","x":-0.41,"y":-0.64},
{"g":"L5","k":"l","x":1.89,"y":-0.99},{"g":"L5","k":"l","x":1.78,"y":-1.19},{"g":"L5","k":"l","x":1.51,"y":-1.15},{"g":"L5","k":"l","x":1.24,"y":-0.88},{"g":"L5","k":"l","x":1.13,"y":-0.53},{"g":"L5","k":"l","x":1.24,"y":-0.33},{"g":"L5","k":"l","x":1.51,"y":-0.37},{"g":"L5","k":"l","x":1.78,"y":-0.64},
{"g":"L6","k":"l","x":1.21,"y":-1.58},{"g":"L6","k":"l","x":1.08,"y":-1.76},{"g":"L6","k":"l","x":0.76,"y":-1.79},{"g":"L6","k":"l","x":0.44,"y":-1.65},{"g":"L6","k":"l","x":0.31,"y":-1.42},{"g":"L6","k":"l","x":0.44,"y":-1.24},{"g":"L6","k":"l","x":0.76,"y":-1.21},{"g":"L6","k":"l","x":1.08,"y":-1.35},
{"g":"L0","k":"l","x":0.16,"y":-0.05},{"g":"L0","k":"l","x":0.11,"y":-0.14},{"g":"L0","k":"l","x":0.0,"y":-0.14},{"g":"L0","k":"l","x":-0.11,"y":-0.06},{"g":"L0","k":"l","x":-0.16,"y":0.05},{"g":"L0","k":"l","x":-0.11,"y":0.14},{"g":"L0","k":"l","x":0.0,"y":0.14},{"g":"L0","k":"l","x":0.11,"y":0.06},
{"g":"D1","k":"d","x":-0.10,"y":1.45},{"g":"D1","k":"d","x":-0.29,"y":1.15},{"g":"D1","k":"d","x":-0.73,"y":1.10},{"g":"D1","k":"d","x":-1.17,"y":1.32},{"g":"D1","k":"d","x":-1.36,"y":1.67},{"g":"D1","k":"d","x":-1.17,"y":1.96},{"g":"D1","k":"d","x":-0.73,"y":2.01},{"g":"D1","k":"d","x":-0.29,"y":1.80},
{"g":"D2","k":"d","x":-0.96,"y":0.42},{"g":"D2","k":"d","x":-1.13,"y":0.13},{"g":"D2","k":"d","x":-1.50,"y":0.19},{"g":"D2","k":"d","x":-1.87,"y":0.57},{"g":"D2","k":"d","x":-2.02,"y":1.06},{"g":"D2","k":"d","x":-1.87,"y":1.35},{"g":"D2","k":"d","x":-1.50,"y":1.29},{"g":"D2","k":"d","x":-1.13,"y":0.91},
{"g":"D3","k":"d","x":1.39,"y":0.42},{"g":"D3","k":"d","x":1.20,"y":0.13},{"g":"D3","k":"d","x":0.78,"y":0.19},{"g":"D3","k":"d","x":0.36,"y":0.57},{"g":"D3","k":"d","x":0.17,"y":1.06},{"g":"D3","k":"d","x":0.36,"y":1.35},{"g":"D3","k":"d","x":0.78,"y":1.29},{"g":"D3","k":"d","x":1.20,"y":0.91},
{"g":"D4","k":"d","x":-0.10,"y":-1.08},{"g":"D4","k":"d","x":-0.29,"y":-1.37},{"g":"D4","k":"d","x":-0.71,"y":-1.31},{"g":"D4","k":"d","x":-1.13,"y":-0.93},{"g":"D4","k":"d","x":-1.32,"y":-0.44},{"g":"D4","k":"d","x":-1.13,"y":-0.15},{"g":"D4","k":"d","x":-0.71,"y":-0.21},{"g":"D4","k":"d","x":-0.29,"y":-0.59},
{"g":"D5","k":"d","x":2.05,"y":-1.08},{"g":"D5","k":"d","x":1.90,"y":-1.37},{"g":"D5","k":"d","x":1.51,"y":-1.31},{"g":"D5","k":"d","x":1.12,"y":-0.93},{"g":"D5","k":"d","x":0.97,"y":-0.44},{"g":"D5","k":"d","x":1.12,"y":-0.15},{"g":"D5","k":"d","x":1.51,"y":-0.21},{"g":"D5","k":"d","x":1.90,"y":-0.59},
{"g":"D6","k":"d","x":1.39,"y":-1.62},{"g":"D6","k":"d","x":1.20,"y":-1.91},{"g":"D6","k":"d","x":0.76,"y":-1.96},{"g":"D6","k":"d","x":0.32,"y":-1.74},{"g":"D6","k":"d","x":0.13,"y":-1.38},{"g":"D6","k":"d","x":0.32,"y":-1.09},{"g":"D6","k":"d","x":0.76,"y":-1.04},{"g":"D6","k":"d","x":1.20,"y":-1.26},
{"g":"D0","k":"d","x":0.68,"y":-0.23},{"g":"D0","k":"d","x":0.48,"y":-0.58},{"g":"D0","k":"d","x":0.0,"y":-0.60},{"g":"D0","k":"d","x":-0.48,"y":-0.27},{"g":"D0","k":"d","x":-0.68,"y":0.23},{"g":"D0","k":"d","x":-0.48,"y":0.58},{"g":"D0","k":"d","x":0.0,"y":0.60},{"g":"D0","k":"d","x":0.48,"y":0.27},
{"g":"E1","k":"b","x":-0.81,"y":0.89},{"g":"E1","k":"b","x":-0.84,"y":0.85},{"g":"E1","k":"b","x":-0.92,"y":0.86},{"g":"E1","k":"b","x":-1.00,"y":0.92},{"g":"E1","k":"b","x":-1.03,"y":0.99},{"g":"E1","k":"b","x":-1.00,"y":1.03},{"g":"E1","k":"b","x":-0.92,"y":1.02},{"g":"E1","k":"b","x":-0.84,"y":0.96},
{"g":"E2","k":"b","x":0.05,"y":0.89},{"g":"E2","k":"b","x":0.02,"y":0.85},{"g":"E2","k":"b","x":-0.06,"y":0.86},{"g":"E2","k":"b","x":-0.14,"y":0.92},{"g":"E2","k":"b","x":-0.17,"y":0.99},{"g":"E2","k":"b","x":-0.14,"y":1.03},{"g":"E2","k":"b","x":-0.06,"y":1.02},{"g":"E2","k":"b","x":0.02,"y":0.96},
{"g":"E3","k":"b","x":-0.85,"y":-0.01},{"g":"E3","k":"b","x":-0.88,"y":-0.05},{"g":"E3","k":"b","x":-0.96,"y":-0.04},{"g":"E3","k":"b","x":-1.04,"y":0.02},{"g":"E3","k":"b","x":-1.07,"y":0.09},{"g":"E3","k":"b","x":-1.04,"y":0.13},{"g":"E3","k":"b","x":-0.96,"y":0.12},{"g":"E3","k":"b","x":-0.88,"y":0.06},
{"g":"E4","k":"b","x":1.02,"y":-0.04},{"g":"E4","k":"b","x":0.99,"y":-0.08},{"g":"E4","k":"b","x":0.91,"y":-0.07},{"g":"E4","k":"b","x":0.83,"y":-0.01},{"g":"E4","k":"b","x":0.80,"y":0.06},{"g":"E4","k":"b","x":0.83,"y":0.10},{"g":"E4","k":"b","x":0.91,"y":0.09},{"g":"E4","k":"b","x":0.99,"y":0.03},
{"g":"E5","k":"b","x":0.11,"y":-0.91},{"g":"E5","k":"b","x":0.08,"y":-0.95},{"g":"E5","k":"b","x":0.0,"y":-0.94},{"g":"E5","k":"b","x":-0.08,"y":-0.88},{"g":"E5","k":"b","x":-0.11,"y":-0.81},{"g":"E5","k":"b","x":-0.08,"y":-0.77},{"g":"E5","k":"b","x":0.0,"y":-0.78},{"g":"E5","k":"b","x":0.08,"y":-0.84},
{"g":"E6","k":"b","x":1.02,"y":-0.94},{"g":"E6","k":"b","x":0.99,"y":-0.98},{"g":"E6","k":"b","x":0.91,"y":-0.97},{"g":"E6","k":"b","x":0.83,"y":-0.91},{"g":"E6","k":"b","x":0.80,"y":-0.84},{"g":"E6","k":"b","x":0.83,"y":-0.80},{"g":"E6","k":"b","x":0.91,"y":-0.81},{"g":"E6","k":"b","x":0.99,"y":-0.87},
{"g":"Q1","k":"b","x":-1.16,"y":2.51},{"g":"Q1","k":"b","x":-1.20,"y":2.46},{"g":"Q1","k":"b","x":-1.28,"y":2.47},{"g":"Q1","k":"b","x":-1.36,"y":2.53},{"g":"Q1","k":"b","x":-1.40,"y":2.61},{"g":"Q1","k":"b","x":-1.36,"y":2.66},{"g":"Q1","k":"b","x":-1.28,"y":2.65},{"g":"Q1","k":"b","x":-1.20,"y":2.59},
{"g":"Q2","k":"b","x":-2.48,"y":1.21},{"g":"Q2","k":"b","x":-2.52,"y":1.16},{"g":"Q2","k":"b","x":-2.60,"y":1.17},{"g":"Q2","k":"b","x":-2.68,"y":1.23},{"g":"Q2","k":"b","x":-2.72,"y":1.31},{"g":"Q2","k":"b","x":-2.68,"y":1.36},{"g":"Q2","k":"b","x":-2.60,"y":1.35},{"g":"Q2","k":"b","x":-2.52,"y":1.29},
{"g":"Q3","k":"b","x":1.42,"y":1.21},{"g":"Q3","k":"b","x":1.38,"y":1.16},{"g":"Q3","k":"b","x":1.30,"y":1.17},{"g":"Q3","k":"b","x":1.22,"y":1.23},{"g":"Q3","k":"b","x":1.18,"y":1.31},{"g":"Q3","k":"b","x":1.22,"y":1.36},{"g":"Q3","k":"b","x":1.30,"y":1.35},{"g":"Q3","k":"b","x":1.38,"y":1.29},
{"g":"Q4","k":"b","x":-1.17,"y":-1.32},{"g":"Q4","k":"b","x":-1.21,"y":-1.37},{"g":"Q4","k":"b","x":-1.29,"y":-1.36},{"g":"Q4","k":"b","x":-1.37,"y":-1.30},{"g":"Q4","k":"b","x":-1.41,"y":-1.22},{"g":"Q4","k":"b","x":-1.37,"y":-1.17},{"g":"Q4","k":"b","x":-1.29,"y":-1.18},{"g":"Q4","k":"b","x":-1.21,"y":-1.24},
{"g":"Q5","k":"b","x":2.71,"y":-1.32},{"g":"Q5","k":"b","x":2.67,"y":-1.37},{"g":"Q5","k":"b","x":2.59,"y":-1.36},{"g":"Q5","k":"b","x":2.51,"y":-1.30},{"g":"Q5","k":"b","x":2.47,"y":-1.22},{"g":"Q5","k":"b","x":2.51,"y":-1.17},{"g":"Q5","k":"b","x":2.59,"y":-1.18},{"g":"Q5","k":"b","x":2.67,"y":-1.24},
{"g":"Q6","k":"b","x":1.39,"y":-2.61},{"g":"Q6","k":"b","x":1.35,"y":-2.66},{"g":"Q6","k":"b","x":1.27,"y":-2.65},{"g":"Q6","k":"b","x":1.19,"y":-2.59},{"g":"Q6","k":"b","x":1.15,"y":-2.51},{"g":"Q6","k":"b","x":1.19,"y":-2.46},{"g":"Q6","k":"b","x":1.27,"y":-2.47},{"g":"Q6","k":"b","x":1.35,"y":-2.53}
   ]},
   "encoding":{"detail":{"field":"g"},"color":{"field":"k","type":"nominal","scale":{"domain":["b","d","l"],"range":["#000000","#4a4a7c","#8fb4ba"]},"legend":null},"order":{"value":null}}},
  {"mark":{"type":"line","interpolate":"cardinal-closed","strokeWidth":1.5},
   "data":{"values":[
{"g":"R1","k":"b","x":0.52,"y":-0.17},{"g":"R1","k":"b","x":0.37,"y":-0.45},{"g":"R1","k":"b","x":0.0,"y":-0.47},{"g":"R1","k":"b","x":-0.37,"y":-0.21},{"g":"R1","k":"b","x":-0.52,"y":0.17},{"g":"R1","k":"b","x":-0.37,"y":0.45},{"g":"R1","k":"b","x":0.0,"y":0.47},{"g":"R1","k":"b","x":0.37,"y":0.21},
{"g":"R2","k":"b","x":0.38,"y":-0.12},{"g":"R2","k":"b","x":0.27,"y":-0.32},{"g":"R2","k":"b","x":0.0,"y":-0.33},{"g":"R2","k":"b","x":-0.27,"y":-0.15},{"g":"R2","k":"b","x":-0.38,"y":0.12},{"g":"R2","k":"b","x":-0.27,"y":0.32},{"g":"R2","k":"b","x":0.0,"y":0.33},{"g":"R2","k":"b","x":0.27,"y":0.15},
{"g":"R3","k":"b","x":0.25,"y":-0.08},{"g":"R3","k":"b","x":0.18,"y":-0.21},{"g":"R3","k":"b","x":0.0,"y":-0.22},{"g":"R3","k":"b","x":-0.18,"y":-0.10},{"g":"R3","k":"b","x":-0.25,"y":0.08},{"g":"R3","k":"b","x":-0.18,"y":0.21},{"g":"R3","k":"b","x":0.0,"y":0.22},{"g":"R3","k":"b","x":0.18,"y":0.10}
   ]},
   "encoding":{"detail":{"field":"g"},"color":{"field":"k","type":"nominal","scale":{"domain":["b","d","l"],"range":["#000000","#4a4a7c","#8fb4ba"]},"legend":null},"order":{"value":null}}},
  {"mark":{"type":"text","align":"center","baseline":"middle"},
   "data":{"values":[{"x":-0.81,"y":1.46,"t":"11"},{"x":-1.55,"y":-0.51,"t":"3.8"}]},
   "encoding":{"text":{"field":"t"}}},
  {"mark":{"type":"text","align":"left","baseline":"middle","fontWeight":"bold","fontSize":15,"color":"#000"},
   "data":{"values":[{"x":-3.73,"y":-3.12,"t":"Ethanol\u00a0\u00a0 70 ppm"}]},
   "encoding":{"text":{"field":"t"}}}
 ]
}
]
}
